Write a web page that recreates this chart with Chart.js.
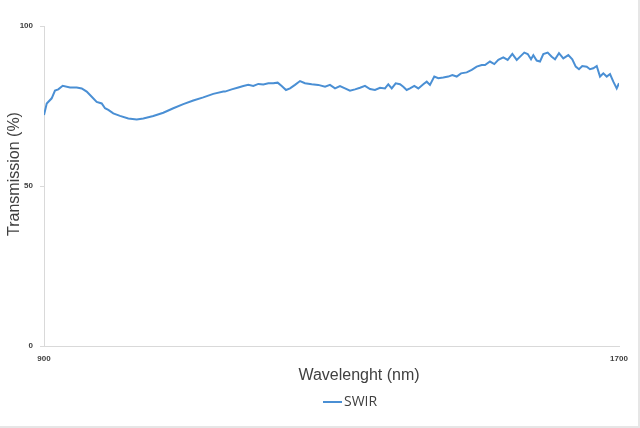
<!DOCTYPE html>
<html>
<head>
<meta charset="utf-8">
<script src="https://cdn.jsdelivr.net/npm/chart.js"></script>
<style>
  html, body { margin: 0; padding: 0; background: #fff; }
  #wrap {
    width: 638px;
    height: 426px;
    border-right: 2px solid #e6e6e6;
    border-bottom: 2px solid #e6e6e6;
  }
</style>
</head>
<body>
<div id="wrap"><canvas id="chart" width="638" height="426"></canvas></div>
<script>
// Wavelength (nm) and transmission (%)
const wavelengths = [
  900, 903.8, 910.7, 915.3, 919.9, 926, 936.2, 945.5, 952.5, 959.4,
  966.4, 973.3, 980.3, 984.9, 989.5, 996.4, 1005.7, 1017.3, 1029, 1038.2,
  1052.1, 1066, 1079.9, 1093.8, 1107.7, 1121.6, 1135.5, 1149.5,
  1151.8, 1161.1, 1170.3, 1177.3, 1184.2, 1191.2, 1198.2, 1205.1, 1212.1, 1219.0,
  1225.1, 1230.7, 1236.7, 1242.3, 1249.2, 1256.2, 1263.1, 1272.5, 1281.6, 1291.0,
  1297.9, 1304.9, 1311.8, 1318.8, 1325.7, 1332.7, 1339.7,
  1346.6, 1353.6, 1360.5, 1367.5, 1374.4, 1379.0, 1383.8, 1389.3, 1395.3, 1399.9,
  1404.6, 1409.2, 1415.2, 1420.8, 1427.7, 1432.5, 1437.0, 1443.0, 1448.6, 1455.5,
  1462.5, 1468.1, 1474.2, 1480.2, 1488.1, 1495.1, 1502.0, 1509.0,
  1513.6, 1520.5, 1526.5, 1532.1, 1539.0, 1545.1, 1551.6, 1557.7, 1564.6, 1568.2,
  1573.0, 1577.6, 1580.8, 1585.5, 1590.1, 1594.7, 1600.8, 1606.4, 1611.0, 1616.5,
  1622.5, 1629.5, 1635.0, 1639.8, 1644.3, 1648.9, 1655.1, 1659.6, 1664.2, 1669.0,
  1673.6, 1678.2, 1682.9, 1687.5, 1692.1, 1696.8, 1700
];
const transmission = [
  72.2, 75.8, 77.4, 79.8, 80.2, 81.3, 80.8, 80.8, 80.5, 79.5,
  77.9, 76.3, 75.8, 74.3, 73.8, 72.7, 71.9, 71.1, 70.8, 71.1,
  71.9, 72.9, 74.3, 75.6, 76.7, 77.7, 78.8, 79.5,
  79.5, 80.2, 80.8, 81.25, 81.6, 81.25, 81.9, 81.7, 82.1, 82.1,
  82.3, 81.25, 80.0, 80.5, 81.6, 82.8, 82.1, 81.8, 81.6, 81.0,
  81.6, 80.5, 81.25, 80.5, 79.8, 80.2, 80.7,
  81.3, 80.3, 80.0, 80.7, 80.5, 81.8, 80.5, 82.1, 81.8, 81.0,
  80.0, 80.5, 81.3, 80.5, 81.8, 82.6, 81.6, 84.2, 83.7, 83.9,
  84.2, 84.7, 84.2, 85.2, 85.5, 86.3, 87.3, 87.8,
  87.8, 88.9, 88.1, 89.4, 90.2, 89.4, 91.25, 89.4, 90.9, 91.7,
  91.25, 89.6, 90.9, 89.2, 88.9, 91.25, 91.7, 90.4, 89.6, 91.5,
  89.9, 90.9, 89.6, 87.3, 86.5, 87.5, 87.3, 86.5, 86.8, 87.5,
  84.2, 85.2, 84.2, 85.0, 82.6, 80.5, 82.1
];
const seriesName = 'SWIR';
const xTicks = [900, 1700];
const yTicks = [0, 50, 100];

const axisColor = '#d9d9d9';
const textColor = '#404040';
const lineColor = '#4a8fd4';

const points = wavelengths.map((w, i) => ({ x: w, y: transmission[i] }));

// axis titles and legend sit off-centre in the original, so draw them here
const labelsPlugin = {
  id: 'labels',
  afterDraw(chart) {
    const ctx = chart.ctx;
    ctx.save();
    ctx.fillStyle = textColor;
    ctx.font = '16px "Liberation Sans", Arial, sans-serif';
    ctx.textAlign = 'center';
    ctx.textBaseline = 'middle';
    ctx.fillText('Wavelenght (nm)', 359, 376);

    ctx.save();
    ctx.translate(15, 174);
    ctx.rotate(-Math.PI / 2);
    ctx.fillText('Transmission (%)', 0, 0);
    ctx.restore();

    // legend
    ctx.strokeStyle = lineColor;
    ctx.lineWidth = 2;
    ctx.beginPath();
    ctx.moveTo(323, 402);
    ctx.lineTo(342, 402);
    ctx.stroke();
    ctx.font = '14px "Open Sans", sans-serif';
    ctx.textAlign = 'left';
    ctx.fillText(seriesName, 344, 402);
    ctx.restore();
  }
};

new Chart(document.getElementById('chart'), {
  type: 'scatter',
  data: {
    datasets: [{
      label: seriesName,
      data: points,
      showLine: true,
      borderColor: lineColor,
      borderWidth: 2,
      pointRadius: 0,
      tension: 0
    }]
  },
  options: {
    responsive: false,
    animation: false,
    layout: { padding: { left: 0, top: 26, right: 19, bottom: 0 } },
    plugins: {
      legend: { display: false },
      tooltip: { enabled: false }
    },
    scales: {
      x: {
        type: 'linear',
        min: 900,
        max: 1700,
        afterBuildTicks: axis => { axis.ticks = xTicks.map(v => ({ value: v })); },
        afterFit: axis => { axis.height = 80; },
        grid: { drawOnChartArea: false, drawTicks: false },
        border: { color: axisColor, width: 1 },
        ticks: {
          padding: 8,
          color: textColor,
          maxRotation: 0,
          callback: v => String(v),
          font: { family: '"Liberation Sans", Arial, sans-serif', size: 8, weight: 'bold' }
        }
      },
      y: {
        min: 0,
        max: 100,
        afterBuildTicks: axis => { axis.ticks = yTicks.map(v => ({ value: v })); },
        afterFit: axis => { axis.width = 44; },
        grid: { drawOnChartArea: false, drawTicks: true, tickLength: 4, color: axisColor },
        border: { color: axisColor, width: 1 },
        ticks: {
          padding: 7,
          color: textColor,
          callback: v => String(v),
          font: { family: '"Liberation Sans", Arial, sans-serif', size: 8, weight: 'bold' }
        }
      }
    }
  },
  plugins: [labelsPlugin]
});
</script>
</body>
</html>
